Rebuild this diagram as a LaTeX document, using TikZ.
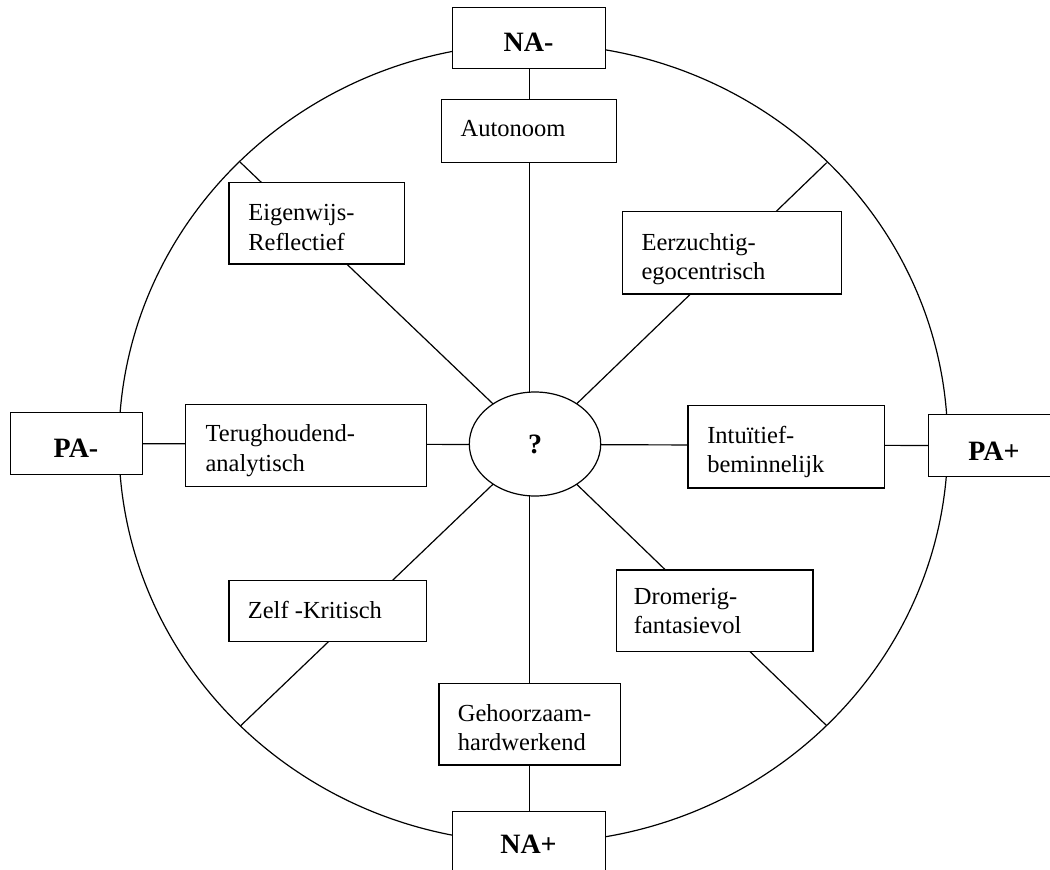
\documentclass[tikz,border=0pt]{standalone}
\usepackage{fontspec}
\setmainfont{Liberation Serif}
\usetikzlibrary{shapes.geometric,backgrounds,calc}
\begin{document}
\begin{tikzpicture}[x=1pt,y=-1pt,line width=1.2pt,
  box/.style={draw, fill=white, inner sep=0pt, anchor=north west, line width=1.2pt},
  lbl/.style={anchor=base west, inner sep=0pt, font=\fontsize{24.5}{29.5}\selectfont},
  big/.style={anchor=base, inner sep=0pt, font=\bfseries\fontsize{28}{33}\selectfont},
  spoke/.style={draw, line width=1.2pt}]
\useasboundingbox (0,0) rectangle (1050,870);
\clip (0,0) rectangle (1050,870);

% outer ring points where the diagonal spokes end
\coordinate (C) at (533.3,443.3);
\coordinate (ul) at (240,162);
\coordinate (ur) at (826.7,162.7);
\coordinate (ll) at (240.7,725.7);
\coordinate (lr) at (826.7,725.7);

% centre
\node[draw, fill=white, ellipse, inner sep=0pt, minimum width=131.4pt, minimum height=104pt,
      line width=1.2pt, font=\bfseries\fontsize{28}{33}\selectfont] (q) at (535,444) {\raisebox{-4pt}{?}};

% axis boxes
\node[box, minimum width=153pt, minimum height=61pt] (nam) at (452,7) {};
\node[big] (nam-t) at (528.5,51.7) {NA-};
\node[box, minimum width=153pt, minimum height=61pt] (nap) at (452,811) {};
\node[big] (nap-t) at (528.5,853) {NA+};
\node[box, minimum width=132pt, minimum height=62pt] (pam) at (10,412) {};
\node[big] (pam-t) at (76,457.3) {PA-};
\node[box, minimum width=132pt, minimum height=62pt] (pap) at (928,414) {};
\node[big] (pap-t) at (994,460) {PA+};

% trait boxes
\node[box, minimum width=175pt, minimum height=63pt] (auto) at (441,99) {};
\node[lbl] (auto-t) at (460,136.7) {Autonoom};

\node[box, minimum width=175.7pt, minimum height=81.6pt] (eig) at (228.3,181.7) {};
\node[lbl] (eig-t) at (247.7,220.7) {\begin{tabular}[t]{@{}l@{}}Eigenwijs-\\Reflectief\end{tabular}};

\node[box, minimum width=219pt, minimum height=82.3pt] (eer) at (621.7,211) {};
\node[lbl] (eer-t) at (641,250) {\begin{tabular}[t]{@{}l@{}}Eerzuchtig-\\egocentrisch\end{tabular}};

\node[box, minimum width=241pt, minimum height=82pt] (ter) at (185,404) {};
\node[lbl] (ter-t) at (205,441.7) {\begin{tabular}[t]{@{}l@{}}Terughoudend-\\analytisch\end{tabular}};

\node[box, minimum width=196.7pt, minimum height=82.3pt] (int) at (687.3,405) {};
\node[lbl] (int-t) at (706.7,443.3) {\begin{tabular}[t]{@{}l@{}}Intu\"itief-\\beminnelijk\end{tabular}};

\node[box, minimum width=197.4pt, minimum height=61pt] (zel) at (228.3,580) {};
\node[lbl] (zel-t) at (247.3,618.3) {Zelf -Kritisch};

\node[box, minimum width=196.6pt, minimum height=81.7pt] (dro) at (615.7,569.3) {};
\node[lbl] (dro-t) at (633.3,604) {\begin{tabular}[t]{@{}l@{}}Dromerig-\\fantasievol\end{tabular}};

\node[box, minimum width=181.7pt, minimum height=81.6pt] (geh) at (438.3,682.7) {};
\node[lbl] (geh-t) at (457.3,721) {\begin{tabular}[t]{@{}l@{}}Gehoorzaam-\\hardwerkend\end{tabular}};

\begin{scope}[on background layer]
  \draw[line width=1.2pt] (C) ellipse [x radius=414.4, y radius=399.5];
  \draw[spoke] (nam) -- (nap);
  \draw[spoke] (pam) -- (pap);
  \draw[spoke] (ul) -- (q.center);
  \draw[spoke] (ur) -- (q.center);
  \draw[spoke] (ll) -- (q.center);
  \draw[spoke] (lr) -- (q.center);
\end{scope}
\end{tikzpicture}
\end{document}
